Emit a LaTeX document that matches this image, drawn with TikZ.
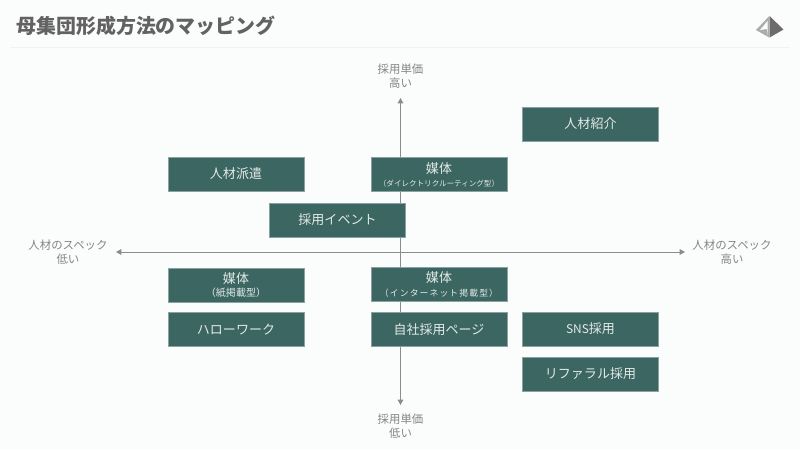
\documentclass[tikz,border=0pt]{standalone}
\usepackage{fontspec}
\setmainfont{Noto Sans CJK JP}
\usetikzlibrary{arrows.meta}
\definecolor{boxgreen}{HTML}{3C6661}
\definecolor{boxtext}{HTML}{E2EAE8}
\definecolor{papercol}{HTML}{FBFCFC}
\definecolor{axiscol}{HTML}{8C8C8C}
\definecolor{labelcol}{HTML}{858585}
\definecolor{titlecol}{HTML}{626262}
\tikzset{
  mapbox/.style={fill=boxgreen,draw=boxgreen!60!white,line width=0.2pt,text=boxtext,
    minimum width=2.72cm,minimum height=0.68cm,inner sep=0pt,align=center,font=\fontsize{7.4}{9}\selectfont},
  axislabel/.style={text=labelcol,align=center,inner sep=0pt,font=\fontsize{6.5}{8.2}\selectfont},
  axisline/.style={draw=axiscol,line width=0.55pt,{Triangle[length=3pt,width=3.2pt]}-{Triangle[length=3pt,width=3.2pt]}},
}
\newfontfamily\widesub[LetterSpace=13]{Noto Sans CJK JP}
\newcommand{\subtext}[2]{\\[-1.5pt]{\fontsize{#1}{5}\selectfont #2}}
\begin{document}
\begin{tikzpicture}[x=0.2mm,y=-0.2mm]
    %page
    \fill[papercol] (0,0) rectangle (800,449);
    \useasboundingbox (0,0) rectangle (800,449);
    \draw[gray!10,line width=0.4pt] (10,47) -- (790,47);

    %title
    \node[anchor=west,text=titlecol,inner sep=0pt,font=\fontsize{11.35}{13}\selectfont\bfseries] (title) at (16,26) {母集団形成方法のマッピング};

    %logo
    \fill[gray!65] (769.3,16) -- (756,30) -- (769.3,37.5) -- cycle;
    \fill[papercol] (767.5,21) -- (760,30) -- (767,29) -- (767.5,34.5) -- cycle;
    \fill[gray!85!black] (769.5,16) -- (783.5,29.5) -- (769.5,37.5) -- cycle;

    %axes
    \coordinate (ytop) at (400.5,98);
    \coordinate (ybottom) at (400.5,405);
    \coordinate (xleft) at (116,252);
    \coordinate (xright) at (685,252);
    \draw[axisline] (ybottom) -- (ytop);
    \draw[axisline] (xleft) -- (xright);

    %axis labels
    \node[axislabel] (costhigh) at (400.5,76) {採用単価\\高い};
    \node[axislabel] (costlow) at (400.5,426) {採用単価\\低い};
    \node[axislabel] (speclow) at (68,252) {人材のスペック\\低い};
    \node[axislabel] (spechigh) at (732,252) {人材のスペック\\高い};

    %boxes
    \node[mapbox] (agency) at (590.5,124) {人材紹介};
    \node[mapbox] (dispatch) at (236,174) {人材派遣};
    \node[mapbox] (direct) at (439,174.5) {媒体\subtext{4.3}{（ダイレクトリクルーティング型）}};
    \node[mapbox] (event) at (337.5,220) {採用イベント};
    \node[mapbox] (paper) at (236,285) {媒体\subtext{5.7}{（紙掲載型）}};
    \node[mapbox] (web) at (439,284.5) {媒体\subtext{5}{\widesub（インターネット掲載型）}};
    \node[mapbox] (hellowork) at (236,329.5) {ハローワーク};
    \node[mapbox] (ownsite) at (439,329.5) {自社採用ページ};
    \node[mapbox] (sns) at (590.5,329) {{\fontsize{6.8}{9}\selectfont SNS}採用};
    \node[mapbox] (referral) at (590.5,374) {リファラル採用};
\end{tikzpicture}
\end{document}
